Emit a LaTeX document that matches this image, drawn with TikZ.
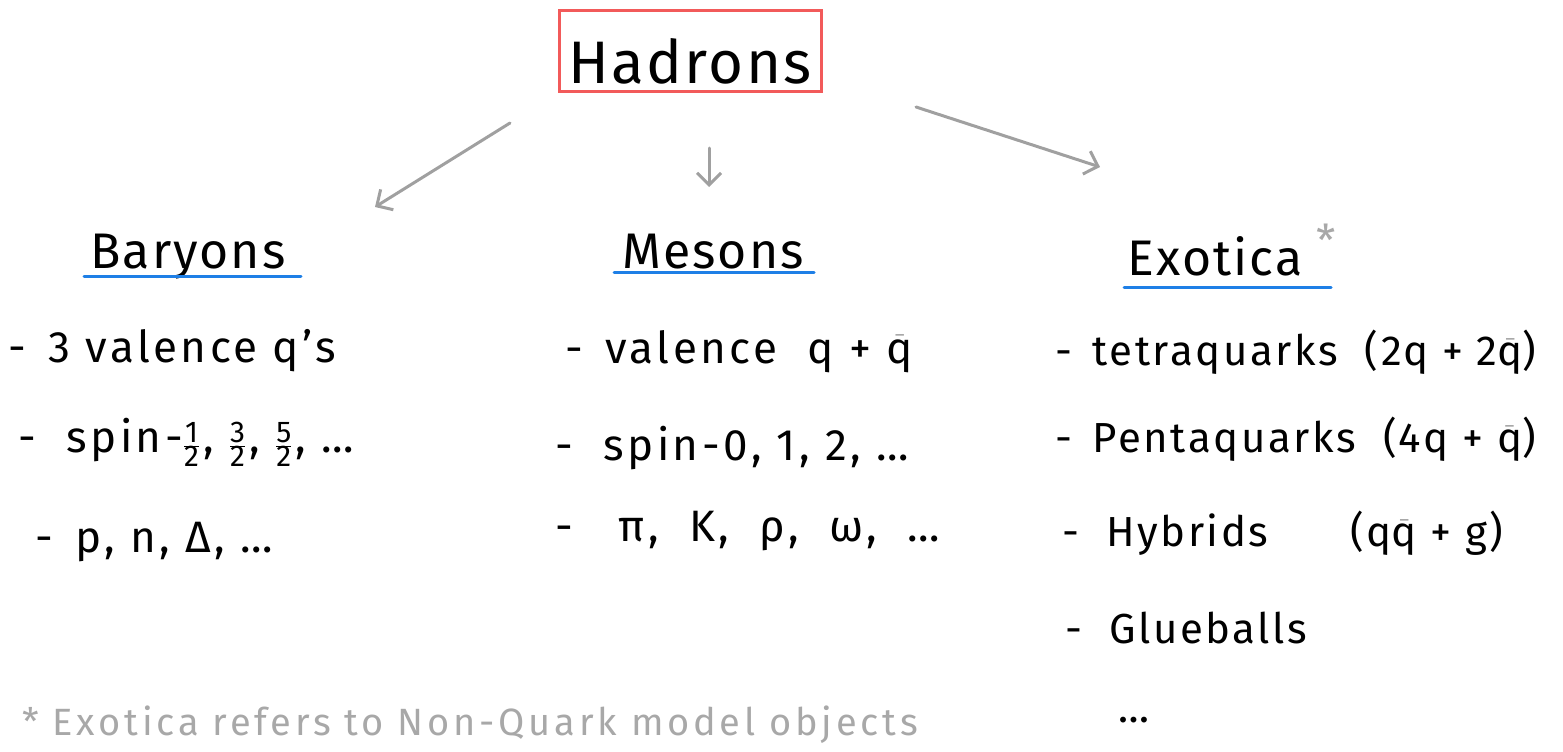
\documentclass[tikz,border=0pt]{standalone}
\usepackage{fontspec}
\setmainfont{Fira Sans}
\usetikzlibrary{arrows.meta}
\definecolor{boxred}{HTML}{F25A5A}
\definecolor{lineblue}{HTML}{1E7FE6}
\definecolor{arrowgrey}{HTML}{A0A0A0}
\definecolor{notegrey}{HTML}{A8A8A8}
\newcommand{\qbar}{\ensuremath{\bar{\mbox{q}}}}
\newcommand{\hfrac}[2]{\ensuremath{\frac{\mbox{\fontsize{30}{30}\selectfont #1}}{\mbox{\fontsize{30}{30}\selectfont #2}}}}
\begin{document}
\begin{tikzpicture}[x=1pt,y=-1pt,
  title/.style={anchor=base, inner sep=0pt, font=\fontsize{60}{66}\selectfont\addfontfeature{LetterSpace=4}},
  header/.style={anchor=base, inner sep=0pt, font=\fontsize{50}{56}\selectfont\addfontfeature{LetterSpace=4}},
  item/.style={anchor=base west, inner sep=0pt, font=\fontsize{44}{50}\selectfont\addfontfeature{LetterSpace=8}},
  exitem/.style={anchor=base west, inner sep=0pt, font=\fontsize{42}{48}\selectfont\addfontfeature{LetterSpace=6}},
  note/.style={anchor=base west, inner sep=0pt, text=notegrey, font=\fontsize{38}{42}\selectfont\addfontfeature{LetterSpace=10}},
  under/.style={draw=lineblue, line width=3pt, line cap=round},
  conn/.style={draw=arrowgrey, line width=3pt, line cap=round, -{Straight Barb[length=12pt,width=24pt,line width=3pt]}}
]
\useasboundingbox (0,0) rectangle (1563,752);

% title
\node[title] (hadrons) at (690,83) {Hadrons};
\draw[boxred, line width=3pt] (559,11) rectangle (821,91);

% arrows
\coordinate (a1s) at (510,123); \coordinate (a1e) at (375,207);
\coordinate (a2s) at (709,148); \coordinate (a2e) at (709,187);
\coordinate (a3s) at (916,107); \coordinate (a3e) at (1100,167);
\draw[conn] (a1s) -- (a1e);
\draw[conn] (a2s) -- (a2e);
\draw[conn] (a3s) -- (a3e);

% headers
\node[header] (baryons) at (188,268) {Baryons};
\node[header] (mesons) at (713,268) {Mesons};
\node[header] (exotica) at (1215,275) {Exotica};
\node[anchor=center, inner sep=0pt, text=notegrey, font=\fontsize{44}{48}\selectfont] (star) at (1326,240) {*};
\coordinate (u1a) at (84,276); \coordinate (u1b) at (301,276);
\coordinate (u2a) at (614,272); \coordinate (u2b) at (814,272);
\coordinate (u3a) at (1124,287); \coordinate (u3b) at (1331,287);
\draw[under] (u1a) -- (u1b);
\draw[under] (u2a) -- (u2b);
\draw[under] (u3a) -- (u3b);

% baryon items
\node[item] (b1) at (8,362) {-\, 3 valence q's};
\node[item] (b2) at (18,452) {-\ \ spin-\hfrac{1}{2}\kern3pt,\ \hfrac{3}{2}\kern3pt,\ \hfrac{5}{2}\kern3pt,\ \dots};
\node[item] (b3) at (35,552) {-\, p, n, Δ, \dots};

% meson items
\node[item] (m1) at (565,363) {-\, valence\ \ q + \qbar};
\node[item] (m2) at (555,460) {-\ \ spin-0, 1, 2, \dots};
\node[item] (m3) at (555,541) {-\ \ \ π,\ \ K,\ \ ρ,\ \ ω,\ \ \dots};

% exotica items
\node[exitem] (e1) at (1055,365) {-\, tetraquarks\ \ (2q + 2\qbar)};
\node[exitem] (e2) at (1055,452) {-\, Pentaquarks\ \ (4q + \qbar)};
\node[exitem] (e3) at (1062,546) {-\ \ Hybrids\ \ \ \ \ \ (q\qbar\ + g)};
\node[exitem] (e4) at (1065,643) {-\ \ Glueballs};
\node[exitem] (e5) at (1118,722) {\dots};

% footnote
\node[note] (fn) at (22,735) {* Exotica refers to Non-Quark model objects};
\end{tikzpicture}
\end{document}
